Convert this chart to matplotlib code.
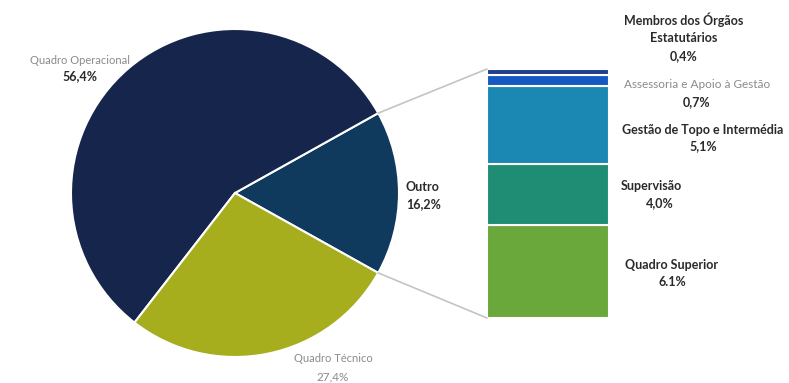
import numpy as np
import matplotlib.pyplot as plt
from matplotlib.patches import ConnectionPatch

plt.rcParams['font.family'] = ['Lato', 'DejaVu Sans']

# main pie: share of staff by group
pie_labels = ['Outro', 'Quadro Operacional', 'Quadro Técnico']
pie_values = [16.2, 56.4, 27.4]
pie_colors = ['#0f3a5e', '#16254b', '#a6ae1e']

# breakdown of "Outro", bottom to top
bar_labels = ['Quadro Superior', 'Supervisão', 'Gestão de Topo e Intermédia',
              'Assessoria e Apoio à Gestão', 'Membros dos Órgãos\nEstatutários']
bar_values = [6.1, 4.0, 5.1, 0.7, 0.4]
bar_texts = ['6.1%', '4,0%', '5,1%', '0,7%', '0,4%']
bar_colors = ['#6aa83c', '#1f8d74', '#1a88b2', '#1558c4', '#1e3f8c']

W, H = 789, 383
fig = plt.figure(figsize=(W / 100, H / 100), dpi=100)
ax = fig.add_axes([0, 0, 1, 1])
ax.set_xlim(0, W)
ax.set_ylim(0, H)
ax.set_aspect('equal')
ax.axis('off')

cx, cy, r = 235, H - 193, 164
start = -pie_values[0] / 100 * 360 / 2
wedges, _ = ax.pie(pie_values, colors=pie_colors, startangle=start, counterclock=True,
                   center=(cx, cy), radius=r, frame=True,
                   wedgeprops=dict(edgecolor='white', linewidth=1.5))
ax.set_xlim(0, W)
ax.set_ylim(0, H)
ax.axis('off')

# stacked bar on its own axes
bx0, bx1, by0, by1 = 487, 609, 318, 69
bax = fig.add_axes([bx0 / W, (H - by0) / H, (bx1 - bx0) / W, (by0 - by1) / H])
bottoms = np.concatenate([[0], np.cumsum(bar_values)[:-1]])
bax.bar(0, bar_values, bottom=bottoms, width=1, color=bar_colors,
        edgecolor='white', linewidth=1.5)
bax.set_xlim(-0.5, 0.5)
bax.set_ylim(0, sum(bar_values))
bax.axis('off')

# connector lines from the "Outro" wedge to the bar
theta = np.deg2rad(-start)
for sign, yb in [(1, sum(bar_values)), (-1, 0)]:
    p = (cx + r * np.cos(theta), cy + sign * r * np.sin(theta))
    con = ConnectionPatch(xyA=(-0.5, yb), coordsA=bax.transData,
                          xyB=p, coordsB=ax.transData,
                          color='#c4c4c4', linewidth=1.2)
    fig.add_artist(con)

dark = '#2a2a2a'
grey = '#8a8a8a'

def label(x, y, name, pct, name_color=dark, pct_color=dark, ha='center', name_size=9,
          pct_bold=True, name_bold=True, dy=16):
    ax.text(x, H - y, name, ha=ha, va='center', fontsize=name_size, color=name_color,
            fontweight='bold' if name_bold else 'normal', linespacing=1.35)
    ax.text(x if ha == 'center' else x + 5, H - y - dy, pct, ha=ha, va='center',
            fontsize=9, color=pct_color, fontweight='bold' if pct_bold else 'normal')

ax.text(80, H - 60, 'Quadro Operacional', ha='center', va='center', fontsize=8, color=grey)
ax.text(80, H - 76, '56,4%', ha='center', va='center', fontsize=9, color=dark, fontweight='bold')
ax.text(333, H - 358, 'Quadro Técnico', ha='center', va='center', fontsize=8, color=grey)
ax.text(333, H - 377, '27,4%', ha='center', va='center', fontsize=8.5, color=grey)
ax.text(406, H - 187, 'Outro', ha='left', va='center', fontsize=9, color=dark, fontweight='bold')
ax.text(406, H - 204, '16,2%', ha='left', va='center', fontsize=9, color=dark, fontweight='bold')

ax.text(684, H - 28, bar_labels[4], ha='center', va='center', fontsize=9, color=dark,
        fontweight='bold', linespacing=1.45)
ax.text(684, H - 56, bar_texts[4], ha='center', va='center', fontsize=9, color=dark, fontweight='bold')
ax.text(697, H - 85, bar_labels[3], ha='center', va='center', fontsize=8.5, color=grey)
ax.text(697, H - 102, bar_texts[3], ha='center', va='center', fontsize=9, color=dark, fontweight='bold')
ax.text(703, H - 130, bar_labels[2], ha='center', va='center', fontsize=9, color=dark, fontweight='bold')
ax.text(703, H - 146, bar_texts[2], ha='center', va='center', fontsize=9, color=dark, fontweight='bold')
ax.text(651, H - 186, bar_labels[1], ha='center', va='center', fontsize=9, color=dark, fontweight='bold')
ax.text(660, H - 203, bar_texts[1], ha='center', va='center', fontsize=9, color=dark, fontweight='bold')
ax.text(672, H - 265, bar_labels[0], ha='center', va='center', fontsize=9, color=dark, fontweight='bold')
ax.text(672, H - 282, bar_texts[0], ha='center', va='center', fontsize=9, color=dark, fontweight='bold')

fig.savefig('out.png', dpi=100)
